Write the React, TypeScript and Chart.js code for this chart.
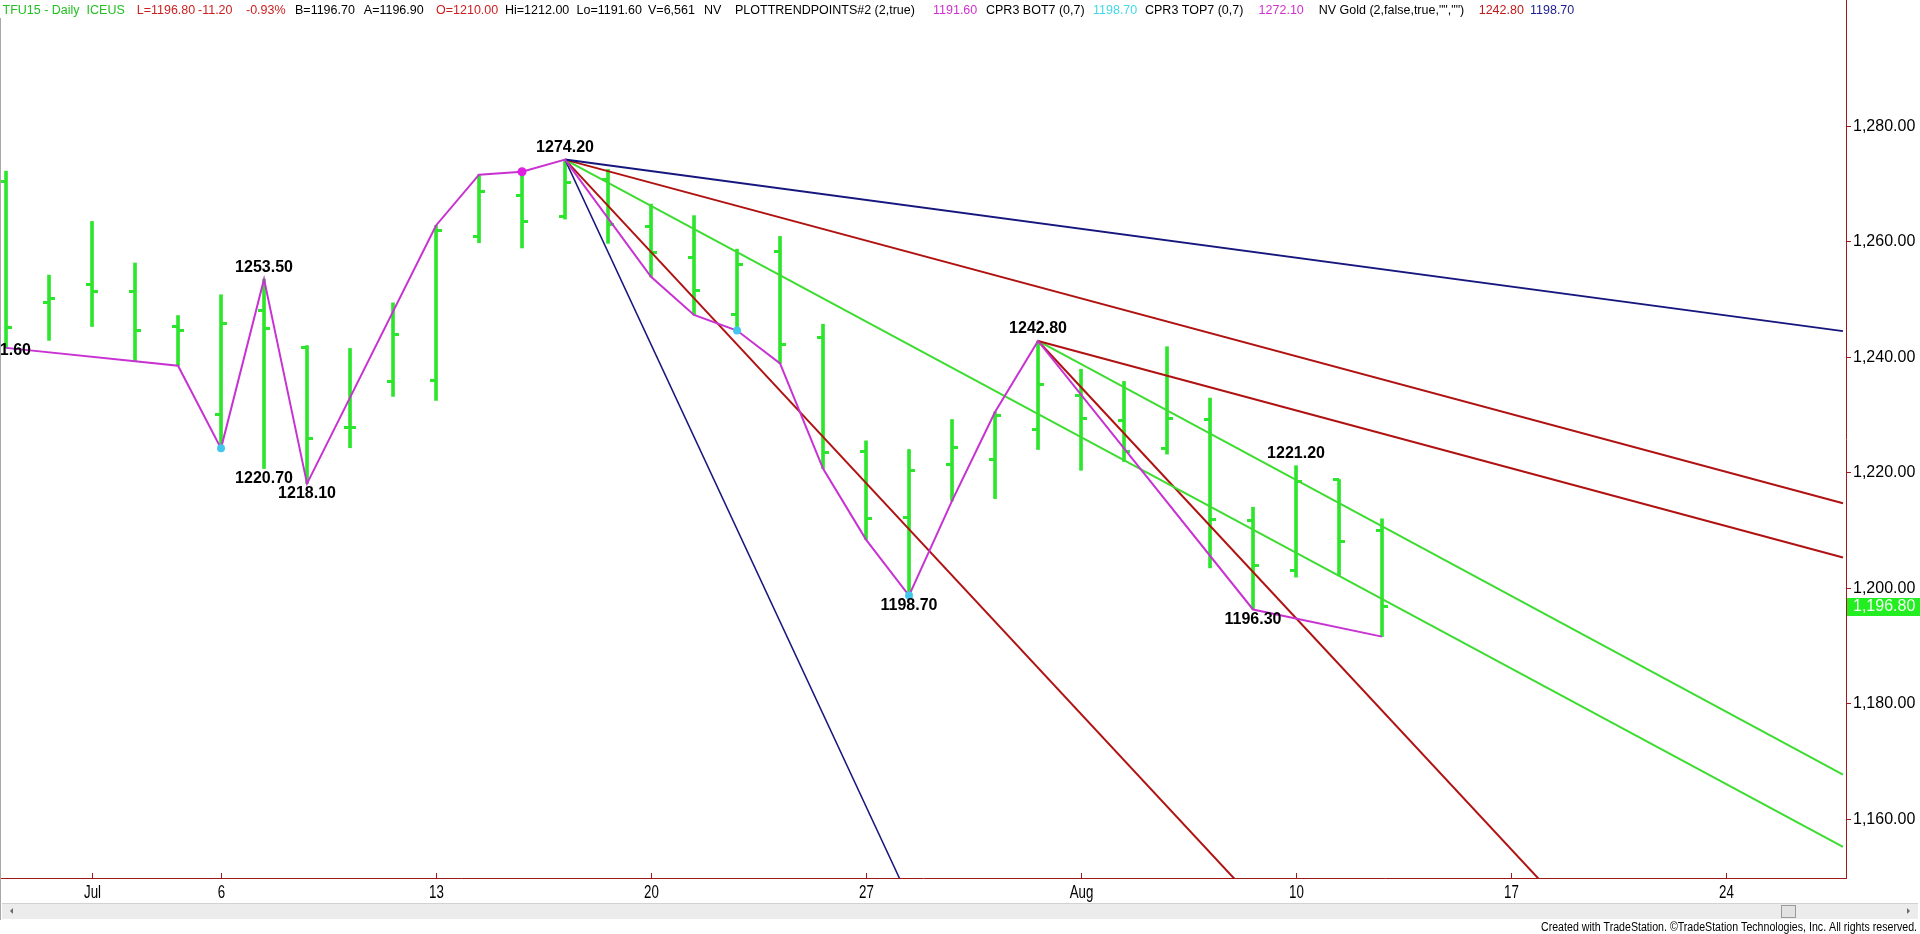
import React, { useEffect, useRef } from 'react';
import { Chart, registerables } from 'chart.js';

Chart.register(...registerables);

// ---- Data (daily OHLC, Jun 29 .. Aug 12) ----
const DAYS = ['Jun 29', 'Jun 30', 'Jul 1', 'Jul 2', 'Jul 3', 'Jul 6', 'Jul 7', 'Jul 8', 'Jul 9', 'Jul 10',
  'Jul 13', 'Jul 14', 'Jul 15', 'Jul 16', 'Jul 17', 'Jul 20', 'Jul 21', 'Jul 22', 'Jul 23', 'Jul 24',
  'Jul 27', 'Jul 28', 'Jul 29', 'Jul 30', 'Jul 31', 'Aug 3', 'Aug 4', 'Aug 5', 'Aug 6', 'Aug 7',
  'Aug 10', 'Aug 11', 'Aug 12'];
const OPEN = [1270.4, 1249.4, 1252.5, 1251.3, 1245.3, 1230.0, 1248.1, 1241.7, 1227.8, 1235.8,
  1236.0, 1260.9, 1267.9, 1264.3, 1270.8, 1262.6, 1257.3, 1247.3, 1258.3, 1243.4,
  1223.6, 1212.3, 1221.4, 1222.2, 1227.4, 1233.3, 1229.0, 1224.1, 1229.2, 1211.7,
  1203.0, 1218.8, 1210.0];
const HIGH = [1272.2, 1254.2, 1263.5, 1256.3, 1247.2, 1250.8, 1253.5, 1242.0, 1241.5, 1249.4,
  1262.8, 1271.6, 1272.1, 1274.2, 1272.5, 1266.5, 1264.5, 1258.7, 1260.9, 1245.7,
  1225.5, 1224.0, 1229.2, 1230.5, 1242.8, 1237.9, 1235.8, 1241.8, 1232.9, 1214.0,
  1221.2, 1218.8, 1212.0];
const LOW = [1241.6, 1242.9, 1245.3, 1239.3, 1238.5, 1224.2, 1220.7, 1218.1, 1224.3, 1233.2,
  1232.5, 1259.8, 1258.9, 1263.9, 1259.7, 1253.9, 1247.3, 1244.6, 1238.9, 1220.7,
  1208.4, 1198.7, 1215.1, 1215.5, 1224.0, 1220.4, 1221.9, 1223.2, 1203.5, 1196.3,
  1201.9, 1202.2, 1191.6];
const CLOSE = [1245.2, 1250.2, 1251.4, 1244.6, 1244.6, 1245.9, 1244.9, 1225.9, 1227.8, 1244.0,
  1262.0, 1268.7, 1263.5, 1270.3, 1263.0, 1258.2, 1251.5, 1256.1, 1242.2, 1223.5,
  1212.0, 1220.4, 1224.3, 1229.9, 1235.2, 1229.3, 1223.7, 1229.3, 1211.8, 1204.0,
  1218.4, 1208.1, 1196.8];
const LAST_PRICE = 1196.8;

// ---- Axes ----
const X_TICK_IDX = [2, 5, 10, 15, 20, 25, 30, 35, 40];
const X_TICK_LABELS = ['Jul', '6', '13', '20', '27', 'Aug', '10', '17', '24'];
const Y_TICKS = [1160, 1180, 1200, 1220, 1240, 1260, 1280];
const X_MIN = -0.14;
const X_MAX = 42.79;
const Y_MIN = 1149.8;
const Y_MAX = 1301.84;

// ---- Swing line (zig-zag) ----
const ZIG_IDX = [0, 3, 4, 5, 6, 7, 10, 11, 12, 13, 15, 16, 17, 18, 19, 20, 21, 22, 23, 24, 29, 32];
const ZIG_VAL = [1241.6, 1239.3, 1238.5, 1224.2, 1253.5, 1218.1, 1262.8, 1271.6, 1272.1, 1274.2,
  1253.9, 1247.3, 1244.6, 1238.9, 1220.7, 1208.4, 1198.7, 1215.1, 1230.5, 1242.8, 1196.3, 1191.6];

const CYAN_DOT_IDX = [5, 17, 21];
const CYAN_DOT_VAL = [1224.2, 1244.6, 1198.7];
const MAG_DOT_IDX = [12];
const MAG_DOT_VAL = [1272.1];

// ---- Fan lines (start point, end point as read) ----
const FAN_START_IDX = [13, 13, 13, 13, 13, 24, 24, 24];
const FAN_START_VAL = [1274.2, 1274.2, 1274.2, 1274.2, 1274.2, 1242.8, 1242.8, 1242.8];
const FAN_END_IDX = [42.72, 42.72, 42.72, 28.7, 20.85, 42.72, 42.72, 35.75];
const FAN_END_VAL = [1244.5, 1214.7, 1155.2, 1148.6, 1148.6, 1205.3, 1167.7, 1148.8];

// ---- Pivot labels ----
const LABEL_IDX = [0, 6, 6, 7, 13, 21, 24, 29, 30];
const LABEL_VAL = [1241.6, 1253.5, 1220.7, 1218.1, 1274.2, 1198.7, 1242.8, 1196.3, 1221.2];
const LABEL_TEXT = ['1241.60', '1253.50', '1220.70', '1218.10', '1274.20', '1198.70', '1242.80', '1196.30', '1221.20'];
const LABEL_POS = ['mid', 'above', 'below', 'below', 'above', 'below', 'above', 'below', 'above'];

// ---- Header ----
const HEADER_TEXT = ['TFU15 - Daily  ICEUS', 'L=1196.80', '-11.20', '-0.93%', 'B=1196.70', 'A=1196.90',
  'O=1210.00', 'Hi=1212.00', 'Lo=1191.60', 'V=6,561', 'NV', 'PLOTTRENDPOINTS#2 (2,true)', '1191.60',
  'CPR3 BOT7 (0,7)', '1198.70', 'CPR3 TOP7 (0,7)', '1272.10', 'NV Gold (2,false,true,"","")', '1242.80', '1198.70'];
const HEADER_X = [2.5, 136.7, 198, 246, 295, 363.8, 436, 505, 576.5, 648, 704, 735, 933, 986, 1093, 1145,
  1258.6, 1318.7, 1478.7, 1530];
const HEADER_COLOR = ['#22c022', '#cc2020', '#cc2020', '#cc2020', '#000', '#000', '#cc2020', '#000', '#000', '#000',
  '#000', '#000', '#d030d0', '#000', '#40d8e8', '#000', '#d030d0', '#000', '#c01818', '#1c1c90'];

const FOOTER = 'Created with TradeStation. \u00A9TradeStation Technologies, Inc. All rights reserved.';

// ---- Styles ----
const NAVY = '#16167e';
const DARK_RED = '#b01212';
const LINE_GREEN = '#3cdc30';
const BAR_GREEN = '#2ee52e';
const MAGENTA = '#c832d2';
const CYAN = '#42c6ee';
const AXIS_RED = '#a01818';
const FAN_COLORS = [NAVY, DARK_RED, LINE_GREEN, DARK_RED, NAVY, DARK_RED, LINE_GREEN, DARK_RED];
const FAN_WIDTHS = [2, 2, 2, 2, 1.5, 2, 2, 2];
const FONT = '"Liberation Sans", Arial, sans-serif';

function drawText(ctx: CanvasRenderingContext2D, text: string, x: number, y: number, font: string,
  color: string, align: CanvasTextAlign, scaleX = 1) {
  ctx.save();
  ctx.font = font;
  ctx.fillStyle = color;
  ctx.textBaseline = 'middle';
  ctx.textAlign = align;
  ctx.translate(x, y);
  ctx.scale(scaleX, 1);
  ctx.fillText(text, 0, 0);
  ctx.restore();
}

function makeTick(side: 'left' | 'right') {
  const c = document.createElement('canvas');
  c.width = 12;
  c.height = 3;
  const g = c.getContext('2d')!;
  g.fillStyle = BAR_GREEN;
  if (side === 'left') g.fillRect(0, 0, 6, 3);
  else g.fillRect(6, 0, 6, 3);
  return c;
}

const overlayPlugin = {
  id: 'overlay',
  afterDatasetsDraw(chart: any) {
    const { ctx, scales } = chart;
    const x = scales.x;
    const y = scales.y;
    LABEL_TEXT.forEach((t, k) => {
      const px = x.getPixelForValue(LABEL_IDX[k]);
      const py = y.getPixelForValue(LABEL_VAL[k]);
      const pos = LABEL_POS[k];
      const dy = pos === 'above' ? -12 : pos === 'below' ? 10 : 3;
      const dx = pos === 'mid' ? -4 : 0;
      drawText(ctx, t, px + dx, py + dy, 'bold 16px ' + FONT, '#000', 'center');
    });
  },
  afterDraw(chart: any) {
    const { ctx, scales, chartArea } = chart;
    const x = scales.x;
    const y = scales.y;
    const W = chart.width;
    // left frame line
    ctx.save();
    ctx.strokeStyle = '#a8a8a8';
    ctx.lineWidth = 1;
    ctx.beginPath();
    ctx.moveTo(0.5, 18);
    ctx.lineTo(0.5, 920);
    ctx.stroke();
    ctx.restore();
    // x ticks + labels
    X_TICK_IDX.forEach((idx, k) => {
      const px = Math.round(x.getPixelForValue(idx)) + 0.5;
      ctx.save();
      ctx.strokeStyle = AXIS_RED;
      ctx.lineWidth = 1;
      ctx.beginPath();
      ctx.moveTo(px, chartArea.bottom - 5);
      ctx.lineTo(px, chartArea.bottom);
      ctx.stroke();
      ctx.restore();
      drawText(ctx, X_TICK_LABELS[k], px, chartArea.bottom + 15, '19px ' + FONT, '#000', 'center', 0.7);
    });
    // last price marker
    const ly = y.getPixelForValue(LAST_PRICE);
    ctx.save();
    ctx.fillStyle = '#22ee22';
    ctx.fillRect(chartArea.right + 1, Math.round(ly) - 9, W - chartArea.right - 1, 18);
    ctx.restore();
    drawText(ctx, LAST_PRICE.toLocaleString('en-US', { minimumFractionDigits: 2, maximumFractionDigits: 2 }),
      chartArea.right + 7, ly + 0.5, '16px ' + FONT, '#f2fff2', 'left');
    // header
    HEADER_TEXT.forEach((t, k) => {
      drawText(ctx, t, HEADER_X[k], 11, '12.5px ' + FONT, HEADER_COLOR[k], 'left');
    });
    // scrollbar
    ctx.save();
    ctx.fillStyle = '#ececec';
    ctx.fillRect(2, 903, W - 4, 16);
    ctx.strokeStyle = '#d2d2d2';
    ctx.beginPath();
    ctx.moveTo(2, 903.5);
    ctx.lineTo(W - 2, 903.5);
    ctx.stroke();
    ctx.fillStyle = '#6a6a6a';
    ctx.beginPath();
    ctx.moveTo(10, 911);
    ctx.lineTo(13, 908);
    ctx.lineTo(13, 914);
    ctx.closePath();
    ctx.fill();
    ctx.beginPath();
    ctx.moveTo(W - 10, 911);
    ctx.lineTo(W - 13, 908);
    ctx.lineTo(W - 13, 914);
    ctx.closePath();
    ctx.fill();
    ctx.fillStyle = '#e2e2e2';
    ctx.fillRect(1781.5, 905.5, 14, 12);
    ctx.strokeStyle = '#9a9a9a';
    ctx.strokeRect(1781.5, 905.5, 14, 12);
    ctx.restore();
    // footer
    ctx.save();
    ctx.font = '12px ' + FONT;
    const fw = ctx.measureText(FOOTER).width;
    ctx.restore();
    drawText(ctx, FOOTER, W - 3, 928, '12px ' + FONT, '#000', 'right', 376 / fw);
  },
};

export default function App() {
  const ref = useRef<HTMLCanvasElement | null>(null);
  useEffect(() => {
    if (!ref.current) return;
    const openTick = makeTick('left');
    const closeTick = makeTick('right');
    const fanSets = FAN_START_IDX.map((s, k) => ({
      type: 'line' as const,
      data: [{ x: s, y: FAN_START_VAL[k] }, { x: FAN_END_IDX[k], y: FAN_END_VAL[k] }],
      borderColor: FAN_COLORS[k],
      borderWidth: FAN_WIDTHS[k],
      pointRadius: 0,
      tension: 0,
      order: 3,
    }));
    const chart = new Chart(ref.current, {
      type: 'line',
      data: {
        datasets: [
          {
            type: 'bar',
            data: HIGH.map((h, i) => ({ x: i, y: [LOW[i], h] })) as any,
            backgroundColor: BAR_GREEN,
            borderWidth: 0,
            barThickness: 3,
            grouped: false,
            order: 6,
          } as any,
          {
            type: 'line',
            data: OPEN.map((o, i) => ({ x: i, y: o })),
            showLine: false,
            pointStyle: openTick as any,
            pointRadius: 3,
            order: 5,
          },
          {
            type: 'line',
            data: CLOSE.map((c, i) => ({ x: i, y: c })),
            showLine: false,
            pointStyle: closeTick as any,
            pointRadius: 3,
            order: 5,
          },
          ...fanSets,
          {
            type: 'line',
            data: ZIG_IDX.map((i, k) => ({ x: i, y: ZIG_VAL[k] })),
            borderColor: MAGENTA,
            borderWidth: 2,
            pointRadius: 0,
            tension: 0,
            order: 2,
          },
          {
            type: 'line',
            data: CYAN_DOT_IDX.map((i, k) => ({ x: i, y: CYAN_DOT_VAL[k] })),
            showLine: false,
            pointRadius: 4,
            pointBackgroundColor: CYAN,
            pointBorderWidth: 0,
            order: 1,
          },
          {
            type: 'line',
            data: MAG_DOT_IDX.map((i, k) => ({ x: i, y: MAG_DOT_VAL[k] })),
            showLine: false,
            pointRadius: 4.5,
            pointBackgroundColor: '#e020e0',
            pointBorderWidth: 0,
            order: 1,
          },
        ],
      },
      options: {
        animation: false,
        responsive: false,
        maintainAspectRatio: false,
        events: [],
        layout: { padding: 0, autoPadding: false },
        plugins: { legend: { display: false }, tooltip: { enabled: false }, title: { display: false } },
        scales: {
          x: {
            type: 'linear',
            position: 'bottom',
            min: X_MIN,
            max: X_MAX,
            offset: false,
            grid: { display: false },
            border: { display: true, color: AXIS_RED, width: 1 },
            ticks: { display: false },
            afterFit: (s: any) => { s.height = 56; s.paddingLeft = 0; s.paddingRight = 0; },
          },
          y: {
            type: 'linear',
            position: 'right',
            min: Y_MIN,
            max: Y_MAX,
            grid: { display: true, drawOnChartArea: false, drawTicks: true, tickLength: 5, color: AXIS_RED, lineWidth: 1 },
            border: { display: true, color: AXIS_RED, width: 1 },
            afterBuildTicks: (s: any) => { s.ticks = Y_TICKS.map((v) => ({ value: v })); },
            ticks: {
              padding: 2,
              color: '#000',
              font: { family: '"Liberation Sans", Arial, sans-serif', size: 16 },
              callback: (v: any) => Number(v).toLocaleString('en-US', { minimumFractionDigits: 2, maximumFractionDigits: 2 }),
            },
            afterFit: (s: any) => { s.width = 74; s.paddingTop = 0; s.paddingBottom = 0; },
          },
        },
      },
      plugins: [overlayPlugin],
    });
    return () => chart.destroy();
  }, []);
  return (
    <div style={{ position: 'fixed', left: 0, top: 0, width: 1920, height: 934, background: '#fff' }}>
      <canvas ref={ref} width={1920} height={934} style={{ display: 'block' }} aria-label={'TFU15 daily ' + DAYS[0] + ' - ' + DAYS[DAYS.length - 1]} />
    </div>
  );
}
